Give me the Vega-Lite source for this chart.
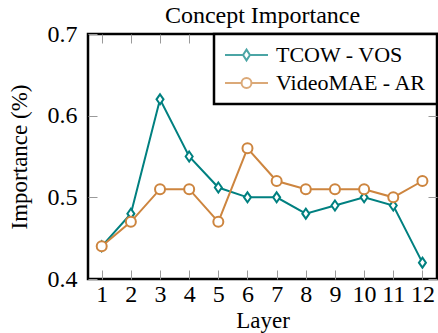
{
  "$schema": "https://vega.github.io/schema/vega-lite/v6.json",
  "width": 349,
  "height": 245,
  "autosize": {"type": "none"},
  "padding": {"left": 88, "top": 34, "right": 1, "bottom": 54},
  "background": "white",
  "title": {
    "text": "Concept Importance",
    "font": "Liberation Serif",
    "fontSize": 24,
    "fontWeight": "normal",
    "color": "black",
    "anchor": "middle",
    "offset": -6
  },
  "config": {
    "font": "Liberation Serif",
    "view": {"stroke": "black", "strokeWidth": 2.5},
    "axis": {
      "labelFont": "Liberation Serif",
      "titleFont": "Liberation Serif",
      "labelColor": "black",
      "titleColor": "black",
      "titleFontWeight": "normal",
      "grid": false,
      "domain": false,
      "tickColor": "#9a9a9a",
      "tickWidth": 1,
      "tickSize": -9
    },
    "legend": {
      "orient": "top-right",
      "offset": 0,
      "padding": 10,
      "strokeColor": "black",
      "strokeWidth": 2.5,
      "fillColor": "white",
      "cornerRadius": 0,
      "labelFont": "Liberation Serif",
      "labelFontSize": 22,
      "labelColor": "black",
      "labelOffset": 7,
      "clipHeight": 22,
      "rowPadding": 6,
      "symbolSize": 1849,
      "symbolStrokeWidth": 2
    }
  },
  "data": {
    "values": [
      {"layer": 1, "series": "TCOW - VOS", "value": 0.44},
      {"layer": 2, "series": "TCOW - VOS", "value": 0.48},
      {"layer": 3, "series": "TCOW - VOS", "value": 0.62},
      {"layer": 4, "series": "TCOW - VOS", "value": 0.55},
      {"layer": 5, "series": "TCOW - VOS", "value": 0.512},
      {"layer": 6, "series": "TCOW - VOS", "value": 0.5},
      {"layer": 7, "series": "TCOW - VOS", "value": 0.5},
      {"layer": 8, "series": "TCOW - VOS", "value": 0.48},
      {"layer": 9, "series": "TCOW - VOS", "value": 0.49},
      {"layer": 10, "series": "TCOW - VOS", "value": 0.5},
      {"layer": 11, "series": "TCOW - VOS", "value": 0.49},
      {"layer": 12, "series": "TCOW - VOS", "value": 0.42},
      {"layer": 1, "series": "VideoMAE - AR", "value": 0.44},
      {"layer": 2, "series": "VideoMAE - AR", "value": 0.47},
      {"layer": 3, "series": "VideoMAE - AR", "value": 0.51},
      {"layer": 4, "series": "VideoMAE - AR", "value": 0.51},
      {"layer": 5, "series": "VideoMAE - AR", "value": 0.47},
      {"layer": 6, "series": "VideoMAE - AR", "value": 0.56},
      {"layer": 7, "series": "VideoMAE - AR", "value": 0.52},
      {"layer": 8, "series": "VideoMAE - AR", "value": 0.51},
      {"layer": 9, "series": "VideoMAE - AR", "value": 0.51},
      {"layer": 10, "series": "VideoMAE - AR", "value": 0.51},
      {"layer": 11, "series": "VideoMAE - AR", "value": 0.5},
      {"layer": 12, "series": "VideoMAE - AR", "value": 0.52}
    ]
  },
  "layer": [
    {
      "mark": {"type": "line", "strokeWidth": 2},
      "encoding": {
        "x": {
          "field": "layer", "type": "quantitative",
          "scale": {"domain": [0.53, 12.5], "nice": false, "zero": false},
          "axis": {"orient": "bottom", "values": [1,2,3,4,5,6,7,8,9,10,11,12], "labelFont": "Liberation Serif", "titleFont": "Liberation Serif", "labelFontSize": 24, "labelPadding": 12, "labelFlush": false, "labelOverlap": false, "title": "Layer", "titleFontSize": 23, "titlePadding": 3}
        },
        "y": {
          "field": "value", "type": "quantitative",
          "scale": {"domain": [0.4, 0.7], "nice": false, "zero": false},
          "axis": {"orient": "left", "values": [0.4, 0.5, 0.6, 0.7], "format": ".1f", "labelFont": "Liberation Serif", "titleFont": "Liberation Serif", "labelFontSize": 24, "labelPadding": 20, "labelFlush": false, "labelOverlap": false, "title": "Importance (%)", "titleFontSize": 23, "titlePadding": 16}
        },
        "stroke": {
          "field": "series", "type": "nominal",
          "scale": {"domain": ["TCOW - VOS", "VideoMAE - AR"], "range": ["#008080", "#CD853F"]},
          "legend": null
        }
      }
    },
    {
      "mark": {"type": "point", "filled": true, "fill": "white", "strokeWidth": 2, "size": 100, "opacity": 1},
      "encoding": {
        "x": {"field": "layer", "type": "quantitative", "axis": {"orient": "top", "values": [1,2,3,4,5,6,7,8,9,10,11,12], "labels": false, "title": null}},
        "y": {"field": "value", "type": "quantitative", "axis": {"orient": "right", "values": [0.4, 0.5, 0.6, 0.7], "labels": false, "title": null}},
        "stroke": {"field": "series", "type": "nominal", "legend": null},
        "shape": {
          "field": "series", "type": "nominal",
          "scale": {"domain": ["TCOW - VOS", "VideoMAE - AR"], "range": ["M0,-1L0.7,0L0,1L-0.7,0Z", "M1,0A1,1,0,1,1,-1,0A1,1,0,1,1,1,0Z"]},
          "legend": null
        }
      }
    },
    {
      "transform": [{"filter": "false"}],
      "mark": {"type": "point", "filled": false, "strokeWidth": 2, "size": 1849},
      "encoding": {
        "x": {"field": "layer", "type": "quantitative", "axis": null},
        "y": {"field": "value", "type": "quantitative", "axis": null},
        "color": {
          "field": "series", "type": "nominal",
          "scale": {"domain": ["TCOW - VOS", "VideoMAE - AR"], "range": ["#008080", "#CD853F"]},
          "legend": {"title": null, "labelFont": "Liberation Serif"}
        },
        "shape": {
          "field": "series", "type": "nominal",
          "scale": {"domain": ["TCOW - VOS", "VideoMAE - AR"], "range": ["M-1,0L-0.16,0M0.16,0L1,0M0,-0.25L0.16,0L0,0.25L-0.16,0Z", "M-1,0L-0.23,0M0.23,0L1,0M0.23,0A0.23,0.23,0,1,1,-0.23,0A0.23,0.23,0,1,1,0.23,0Z"]},
          "legend": {"title": null, "labelFont": "Liberation Serif"}
        }
      }
    }
  ],
  "resolve": {
    "scale": {"shape": "independent", "color": "independent"},
    "axis": {"x": "independent", "y": "independent"}
  }
}
